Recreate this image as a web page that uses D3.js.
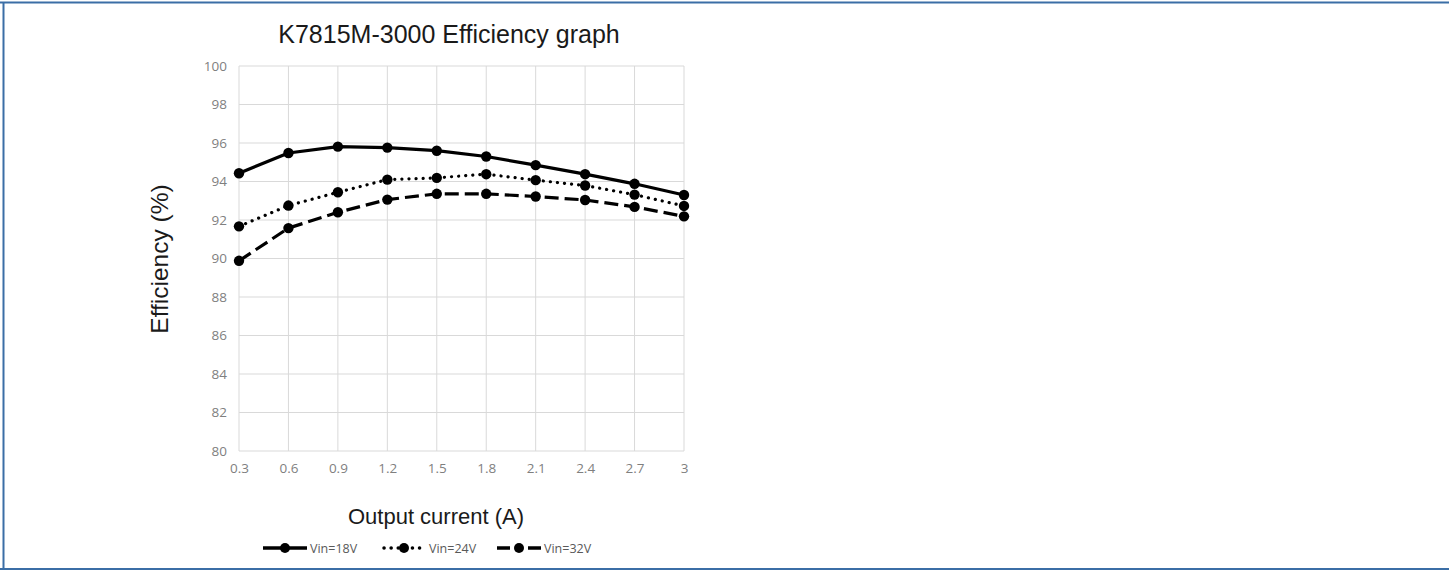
<!DOCTYPE html>
<html><head><meta charset="utf-8">
<script src="https://cdn.jsdelivr.net/npm/d3@7"></script>
<style>html,body{margin:0;padding:0;background:#fff;}svg{display:block;}</style>
</head><body>
<svg id="c" width="1449" height="571"></svg>
<script>
const currents = [0.3,0.6,0.9,1.2,1.5,1.8,2.1,2.4,2.7,3];
const xTickLabels = ["0.3","0.6","0.9","1.2","1.5","1.8","2.1","2.4","2.7","3"];
const yTicks = [80,82,84,86,88,90,92,94,96,98,100];
const seriesNames = ["Vin=18V","Vin=24V","Vin=32V"];
const vin18 = [94.43,95.48,95.81,95.76,95.60,95.30,94.85,94.38,93.88,93.30];
const vin24 = [91.67,92.75,93.44,94.10,94.19,94.38,94.07,93.79,93.32,92.73];
const vin32 = [89.88,91.58,92.40,93.06,93.36,93.36,93.22,93.04,92.68,92.19];

const svg = d3.select("#c");
const L = 239, R = 684, T = 66, B = 451;
const x = d3.scalePoint().domain(xTickLabels).range([L, R]);
const y = d3.scaleLinear().domain([80,100]).range([B, T]);

// frame
svg.append("line").attr("x1",0).attr("x2",1449).attr("y1",2.5).attr("y2",2.5).attr("stroke","#3b6ea6").attr("stroke-width",2);
svg.append("line").attr("x1",0).attr("x2",1449).attr("y1",569).attr("y2",569).attr("stroke","#3b6ea6").attr("stroke-width",2);
svg.append("line").attr("x1",3.5).attr("x2",3.5).attr("y1",2).attr("y2",570).attr("stroke","#3b6ea6").attr("stroke-width",2);

// grid
const grid = svg.append("g");
grid.selectAll("line.h").data(yTicks).join("line").attr("class","h")
  .attr("x1",L).attr("x2",R).attr("y1",d=>y(d)).attr("y2",d=>y(d))
  .attr("stroke","#d9d9d9").attr("stroke-width",1);
grid.selectAll("line.v").data(xTickLabels).join("line").attr("class","v")
  .attr("x1",d=>x(d)).attr("x2",d=>x(d)).attr("y1",T).attr("y2",B)
  .attr("stroke","#d9d9d9").attr("stroke-width",1);

// axes
const yAxis = d3.axisLeft(y).tickValues(yTicks).tickSize(0).tickPadding(12);
const gy = svg.append("g").attr("transform",`translate(${L},0)`).call(yAxis);
gy.select(".domain").remove();
gy.selectAll("text").attr("fill","#7f7f7f").style("font-family","'Open Sans', sans-serif").style("font-size","13.5px");

const xAxis = d3.axisBottom(x).tickSize(0).tickPadding(12);
const gx = svg.append("g").attr("transform",`translate(0,${B})`).call(xAxis);
gx.select(".domain").remove();
gx.selectAll("text").attr("fill","#7f7f7f").style("font-family","'Open Sans', sans-serif").style("font-size","13.5px");

// title and labels
svg.append("text").attr("x",449).attr("y",43).attr("text-anchor","middle")
  .style("font-family","'Liberation Sans', Arial, sans-serif").style("font-size","25px").attr("fill","#1a1a1a")
  .text("K7815M-3000 Efficiency graph");
svg.append("text").attr("transform","translate(168,259) rotate(-90)").attr("text-anchor","middle")
  .style("font-family","'Liberation Sans', Arial, sans-serif").style("font-size","24.5px").attr("fill","#1a1a1a")
  .text("Efficiency (%)");
svg.append("text").attr("x",436).attr("y",524).attr("text-anchor","middle")
  .style("font-family","'Liberation Sans', Arial, sans-serif").style("font-size","22px").attr("fill","#1a1a1a")
  .text("Output current (A)");

// series
const series = [
  {name:seriesNames[0], vals:vin18, dash:null, cap:"butt", legDash:null},
  {name:seriesNames[1], vals:vin24, dash:"0.1,7", cap:"round", legDash:"0.1,7"},
  {name:seriesNames[2], vals:vin32, dash:"14,6", cap:"butt", legDash:"13,18,13"}
];
const line = d3.line().x((d,i)=>x(xTickLabels[i])).y(d=>y(d));
series.forEach(s=>{
  svg.append("path").attr("d",line(s.vals)).attr("fill","none").attr("stroke","#000")
    .attr("stroke-width",3.2).attr("stroke-dasharray",s.dash).attr("stroke-linecap",s.cap).attr("stroke-linejoin","round");
  svg.append("g").selectAll("circle").data(s.vals).join("circle")
    .attr("cx",(d,i)=>x(xTickLabels[i])).attr("cy",d=>y(d)).attr("r",5.2).attr("fill","#000");
});

// legend
const legX = [263, 382, 497];
series.forEach((s,i)=>{
  const g = svg.append("g").attr("transform",`translate(${legX[i]},548)`);
  g.append("line").attr("x1",s.cap==="round"?2:0).attr("x2",44).attr("y1",0).attr("y2",0).attr("stroke","#000")
    .attr("stroke-width",3.5).attr("stroke-dasharray",s.legDash).attr("stroke-linecap",s.cap);
  g.append("circle").attr("cx",22).attr("cy",0).attr("r",5).attr("fill","#000");
  g.append("text").attr("x",47).attr("y",4.5).style("font-family","'Open Sans', sans-serif")
    .style("font-size","12.5px").attr("fill","#595959").text(s.name);
});
</script>
</body></html>
